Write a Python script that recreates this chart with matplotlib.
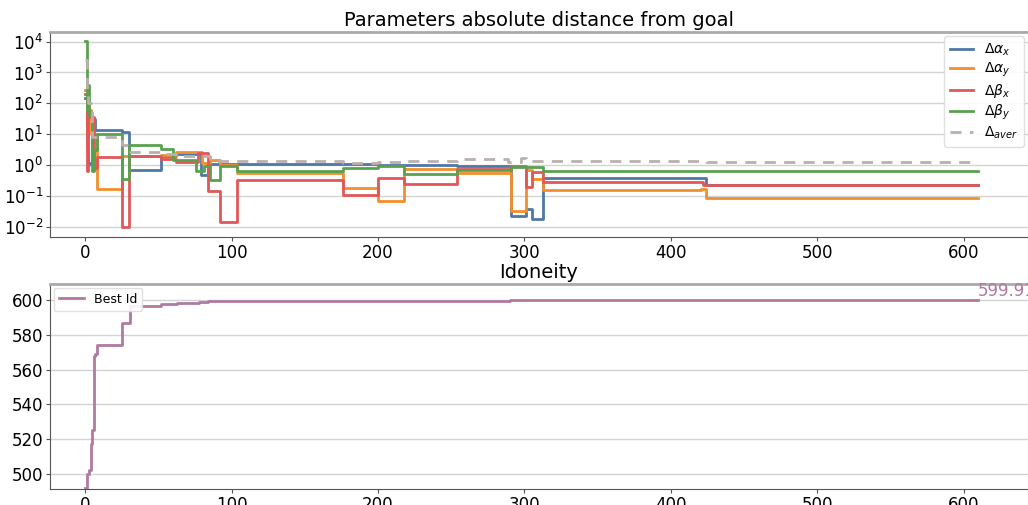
import numpy as np
import matplotlib
matplotlib.use('Agg')
import matplotlib.pyplot as plt

# --- step data: iteration where each value starts ---
it_ax = [0, 1, 2, 3, 5, 7, 25, 30, 52, 62, 79, 84, 200, 254, 291, 301, 305, 313, 424, 610]
d_ax = [150, 25, 1.0, 1.2, 30, 14, 12, 0.7, 1.9, 2.2, 0.47, 1.1, 1.0, 0.93, 0.022, 0.038, 0.018, 0.38, 0.23, 0.23]

it_ay = [0, 1, 2, 4, 8, 25, 30, 52, 62, 80, 85, 92, 104, 176, 200, 218, 254, 291, 301, 305, 313, 421, 424, 610]
d_ay = [270, 4, 60, 10, 0.17, 2.0, 2.0, 2.1, 2.6, 1.2, 1.5, 1.0, 0.57, 0.18, 0.068, 0.76, 0.55, 0.032, 0.7, 0.36, 0.16, 0.17, 0.088, 0.088]

it_bx = [0, 1, 2, 3, 6, 8, 25, 30, 52, 62, 77, 84, 92, 104, 176, 200, 218, 254, 291, 301, 305, 313, 422, 610]
d_bx = [200, 0.62, 40, 35, 0.8, 1.8, 0.0095, 2.0, 1.55, 1.28, 2.4, 0.15, 0.014, 0.33, 0.105, 0.37, 0.25, 0.74, 0.93, 0.2, 0.58, 0.28, 0.23, 0.23]

it_by = [0, 1, 2, 3, 5, 6, 8, 25, 30, 52, 60, 76, 81, 85, 92, 104, 176, 200, 218, 254, 291, 313, 610]
d_by = [10500, 60, 400, 40, 0.65, 3, 10.5, 0.36, 4.6, 3.3, 1.5, 0.62, 0.92, 0.32, 0.9, 0.65, 0.8, 0.9, 0.5, 0.68, 0.84, 0.62, 0.62]

it_av = [0, 1, 2, 5, 25, 30, 52, 62, 80, 85, 176, 200, 218, 254, 289, 298, 301, 304, 424, 610]
d_av = [2500, 300, 100, 8.0, 4.5, 2.7, 2.2, 2.0, 1.9, 1.4, 1.2, 1.25, 1.35, 1.55, 1.3, 1.7, 1.5, 1.4, 1.3, 1.3]

it_id = [0, 1, 3, 4, 5, 6, 7, 8, 25, 29, 31, 52, 63, 78, 84, 95, 290, 610]
best_id = [492, 500, 502, 517, 525, 568, 569, 574, 587, 587, 597, 598, 598.5, 599, 599.5, 599.8, 599.91, 599.91]

blue, orange, red, green = '#4e79a7', '#f28e2b', '#e15759', '#59a14f'
gray, purple = '#bab0ac', '#b07aa1'

plt.rcParams['font.family'] = 'DejaVu Sans'
fig = plt.figure(figsize=(10.28, 5.05), dpi=100)
ax1 = fig.add_axes([0.0486, 0.5307, 0.9514, 0.4059])
ax2 = fig.add_axes([0.0486, 0.0307, 0.9514, 0.4069])

lw = 2
ax1.plot(it_ax, d_ax, drawstyle='steps-post', color=blue, lw=lw, label=r'$\Delta\alpha_x$')
ax1.plot(it_ay, d_ay, drawstyle='steps-post', color=orange, lw=lw, label=r'$\Delta\alpha_y$')
ax1.plot(it_bx, d_bx, drawstyle='steps-post', color=red, lw=lw, label=r'$\Delta\beta_x$')
ax1.plot(it_by, d_by, drawstyle='steps-post', color=green, lw=lw, label=r'$\Delta\beta_y$')
ax1.plot(it_av, d_av, drawstyle='steps-post', color=gray, lw=lw, ls=(0, (4, 3)), label=r'$\Delta_{aver}$')
ax1.set_yscale('log')
ax1.set_yticks([1e-2, 1e-1, 1e0, 1e1, 1e2, 1e3, 1e4])
ax1.set_ylim(10**-2.33, 10**4.31)
ax1.set_title('Parameters absolute distance from goal', fontsize=14, pad=4)
ax1.legend(loc='upper right', fontsize=10, framealpha=0.9, edgecolor='#dddddd',
           labelspacing=0.2, handlelength=1.7, borderaxespad=0.3)

# best idoneity so far, with its final value written at the end
ax2.plot(it_id, best_id, drawstyle='steps-post', color=purple, lw=lw, label='Best Id')
ax2.text(it_id[-1], best_id[-1], f'{best_id[-1]:.2f}', color=purple, fontsize=12,
         ha='left', va='bottom')
ax2.set_ylim(490.9, 609.4)
ax2.set_yticks([500, 520, 540, 560, 580, 600])
ax2.set_title('Idoneity', fontsize=14, pad=4)
ax2.legend(loc='upper left', fontsize=9, framealpha=0.9, edgecolor='#dddddd',
           borderaxespad=0.3)

for ax in (ax1, ax2):
    ax.set_xlim(-24, 644)
    ax.set_xticks([0, 100, 200, 300, 400, 500, 600])
    ax.minorticks_off()
    ax.grid(axis='y', color='#d3d3d3', lw=1)
    ax.set_axisbelow(True)
    ax.tick_params(labelsize=12, length=3, pad=2, color='#555555')
    ax.spines['right'].set_visible(False)
    ax.spines['top'].set_color('#aaaaaa')
    ax.spines['top'].set_linewidth(2)
    ax.spines['left'].set_color('#555555')
    ax.spines['bottom'].set_color('#555555')

fig.savefig('out.png', dpi=100)
